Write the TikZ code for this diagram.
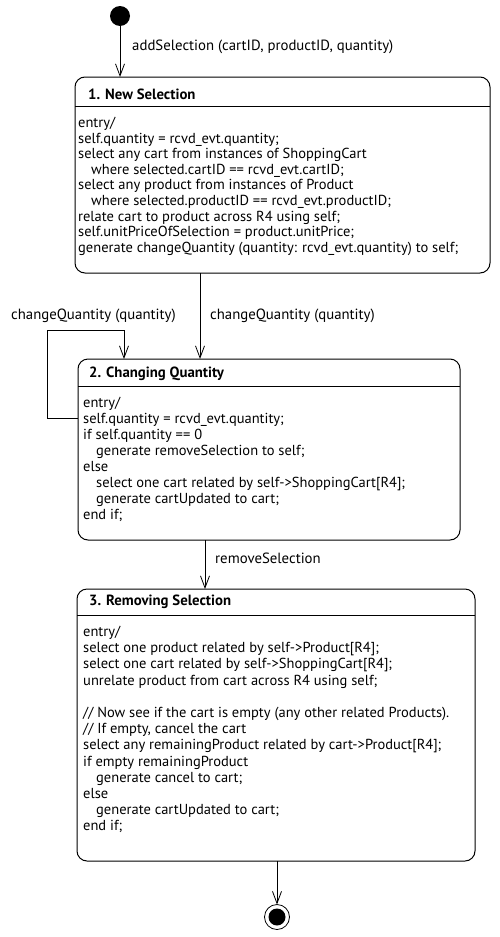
\documentclass[tikz,border=0pt]{standalone}
\usepackage{fontspec}
\setmainfont{PT Sans}
\usetikzlibrary{arrows.meta}
\newcommand\bodyfnt{\fontsize{14.5}{16}\selectfont}
\newcommand\bodyfntb{\fontsize{14.5}{16.2}\selectfont}
\newcommand\lblfnt{\fontsize{14.8}{16}\selectfont}
\newcommand\titlefnt{\fontsize{14.8}{16}\selectfont\bfseries}
\newcommand\ind{\hspace*{13pt}}
\begin{document}
\begin{tikzpicture}[x=1pt,y=-1pt,
  statebox/.style={draw, line width=1pt, rounded corners=10pt, anchor=north west, inner sep=0pt, outer sep=0pt},
  sepline/.style={draw, line width=1pt},
  body/.style={anchor=north west, inner sep=0pt, align=left, font=\bodyfnt},
  ttl/.style={anchor=base west, inner sep=0pt, font=\titlefnt},
  lbl/.style={anchor=base west, inner sep=0pt, font=\lblfnt},
  trans/.style={draw, line width=0.8pt, -{Straight Barb[length=12pt,width=9pt]}}
]
\useasboundingbox (0,0) rectangle (500,937);

% initial state
\node[circle, fill, minimum size=20pt, inner sep=0pt, outer sep=0pt] (init) at (120,16) {};

% box 1
\node[statebox, minimum width=415pt, minimum height=196pt] (box1) at (75,77) {};
\coordinate (s1) at (0,106);
\draw[sepline] (box1.west |- s1) -- (box1.east |- s1);
\node[ttl] (t1) at (88,99) {1. New Selection};
\node[body, font=\fontsize{14.5}{15.6}\selectfont] (b1) at (78,117) {entry/\\
self.quantity = rcvd\_evt.quantity;\\
select any cart from instances of ShoppingCart\\
\ind where selected.cartID == rcvd\_evt.cartID;\\
select any product from instances of Product\\
\ind where selected.productID == rcvd\_evt.productID;\\
relate cart to product across R4 using self;\\
self.unitPriceOfSelection = product.unitPrice;\\
generate changeQuantity (quantity: rcvd\_evt.quantity) to self;};

% box 2
\node[statebox, minimum width=382pt, minimum height=181pt] (box2) at (78,359) {};
\coordinate (s2) at (0,386);
\draw[sepline] (box2.west |- s2) -- (box2.east |- s2);
\node[ttl] (t2) at (89,377) {2. Changing Quantity};
\node[body] (b2) at (83,397) {entry/\\
self.quantity = rcvd\_evt.quantity;\\
if self.quantity == 0\\
\ind generate removeSelection to self;\\
else\\
\ind select one cart related by self->ShoppingCart[R4];\\
\ind generate cartUpdated to cart;\\
end if;};

% box 3
\node[statebox, minimum width=398pt, minimum height=272pt] (box3) at (77,589) {};
\coordinate (s3) at (0,615);
\draw[sepline] (box3.west |- s3) -- (box3.east |- s3);
\node[ttl] (t3) at (89,605) {3. Removing Selection};
\node[body, font=\bodyfntb] (b3) at (83,626) {entry/\\
select one product related by self->Product[R4];\\
select one cart related by self->ShoppingCart[R4];\\
unrelate product from cart across R4 using self;\\
\mbox{}\\
// Now see if the cart is empty (any other related Products).\\
// If empty, cancel the cart\\
select any remainingProduct related by cart->Product[R4];\\
if empty remainingProduct\\
\ind generate cancel to cart;\\
else\\
\ind generate cartUpdated to cart;\\
end if;};

% final state
\node[circle, draw, line width=0.8pt, minimum size=25pt, inner sep=0pt, outer sep=0pt] (fin) at (277,917) {};
\node[circle, fill, minimum size=17pt, inner sep=0pt] (finin) at (fin.center) {};

% transitions
\draw[trans] (init) -- (init |- box1.north);
\node[lbl] (l1) at (132,50) {addSelection (cartID, productID, quantity)};

\coordinate (c12) at (200,0);
\draw[trans] (c12 |- box1.south) -- (c12 |- box2.north);
\node[lbl] (l2) at (210,319) {changeQuantity (quantity)};

\coordinate (lp) at (47,330);
\coordinate (lq) at (124,418);
\draw[trans] (box2.west |- lq) -| (lp) -| (lq |- box2.north);
\node[lbl] (l3) at (11,319) {changeQuantity (quantity)};

\coordinate (c23) at (205,0);
\draw[trans] (c23 |- box2.south) -- (c23 |- box3.north);
\node[lbl] (l4) at (215,563) {removeSelection};

\draw[trans] (fin |- box3.south) -- (fin.north);
\end{tikzpicture}
\end{document}
